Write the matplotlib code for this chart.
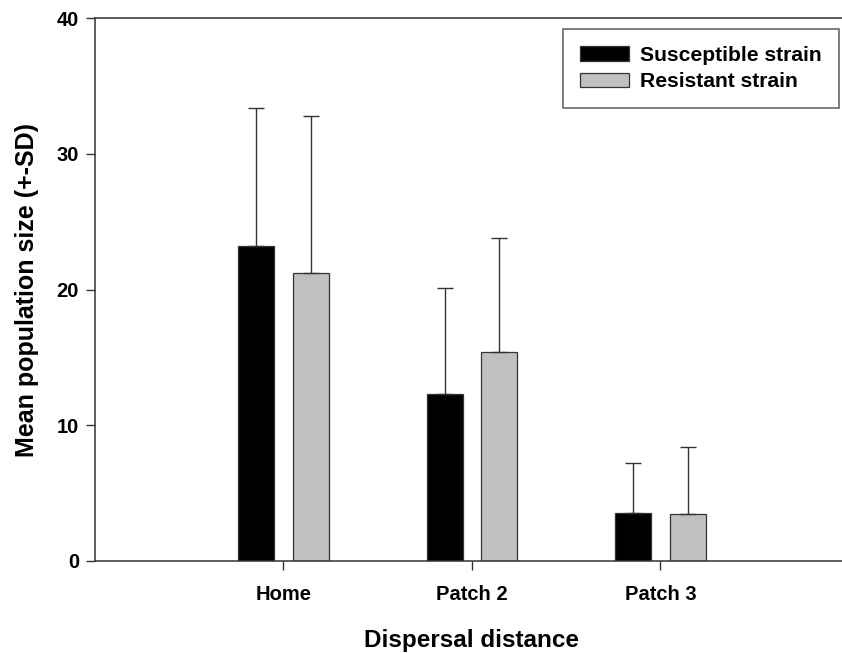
import matplotlib
matplotlib.use("Agg")
import matplotlib.pyplot as plt
import numpy as np

categories = ["Home", "Patch 2", "Patch 3"]
series_names = ["Susceptible strain", "Resistant strain"]
susceptible_mean = [23.2, 12.3, 3.5]
susceptible_sd = [10.2, 7.8, 3.7]
resistant_mean = [21.2, 15.4, 3.45]
resistant_sd = [11.6, 8.4, 4.95]
y_ticks = [0, 10, 20, 30, 40]

plt.rcParams['font.family'] = ['Liberation Sans', 'DejaVu Sans']
plt.rcParams['font.weight'] = 'bold'

edge = '#333333'
fig = plt.figure(figsize=(8.42, 6.53), dpi=100)
ax = fig.add_axes([0.1128, 0.1409, 0.8955, 0.8315])

x = np.arange(len(categories))
w = 0.19
off = 0.145
err_kw = dict(ecolor=edge, elinewidth=1.0, capsize=6, capthick=1.0)

ax.bar(x - off, susceptible_mean, w, color='black', edgecolor=edge, linewidth=0.9,
       yerr=[np.zeros(3), susceptible_sd], error_kw=err_kw, label=series_names[0], zorder=2)
ax.bar(x + off, resistant_mean, w, color='#c0c0c0', edgecolor=edge, linewidth=0.9,
       yerr=[np.zeros(3), resistant_sd], error_kw=err_kw, label=series_names[1], zorder=2)

ax.set_xlim(-1, 3)
ax.set_ylim(0, 40)
ax.set_xticks(x)
ax.set_xticklabels(categories)
ax.set_yticks(y_ticks)

for s in ['left', 'bottom', 'top']:
    ax.spines[s].set_color(edge)
    ax.spines[s].set_linewidth(1.1)
ax.spines['right'].set_visible(False)

ax.tick_params(axis='both', direction='out', length=6.5, width=1.0, color=edge,
               labelsize=14.5, pad=5)
ax.tick_params(axis='x', pad=11)
ax.set_xlabel("Dispersal distance", fontsize=17.5, fontweight='bold', labelpad=18)
ax.set_ylabel("Mean population size (+-SD)", fontsize=18, fontweight='bold', labelpad=13)

leg = ax.legend(loc='upper right', bbox_to_anchor=(0.9964, 0.9556),
                bbox_transform=fig.transFigure, borderaxespad=0,
                fontsize=15.2, frameon=True, fancybox=False, handlelength=2.3,
                handleheight=0.66, handletextpad=0.55, labelspacing=0.36,
                borderpad=0.8)
leg.get_frame().set_edgecolor(edge)
leg.get_frame().set_linewidth(1.1)
for t in leg.get_texts():
    t.set_fontweight('bold')

fig.savefig("out.png", dpi=100)
